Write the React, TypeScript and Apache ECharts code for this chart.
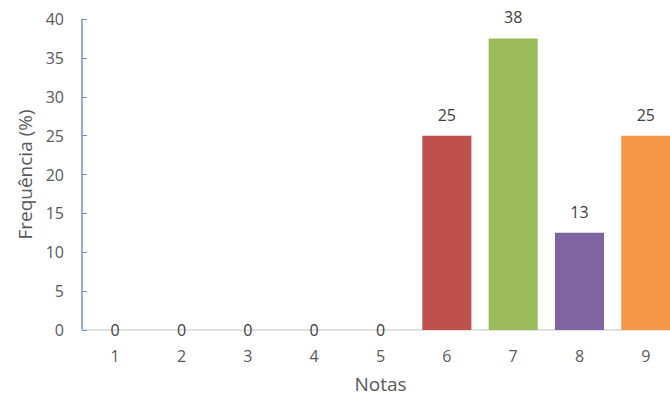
import React, { useEffect, useRef } from "react";
import * as echarts from "echarts";

const categories = ["1", "2", "3", "4", "5", "6", "7", "8", "9"];
const frequencies = [0, 0, 0, 0, 0, 25, 37.5, 12.5, 25];
const barColors = ["#4F81BD", "#4F81BD", "#4F81BD", "#4F81BD", "#4F81BD", "#C0504D", "#9BBB59", "#8064A2", "#F79646"];
const yTicks = { min: 0, max: 40, interval: 5 };

export default function App() {
  const ref = useRef<HTMLDivElement>(null);
  useEffect(() => {
    if (!ref.current) return;
    document.body.style.margin = "0";
    document.body.style.overflow = "hidden";
    const chart = echarts.init(ref.current, null, { renderer: "svg" });
    const font = "'Open Sans', 'Liberation Sans', sans-serif";
    chart.setOption({
      animation: false,
      textStyle: { fontFamily: font },
      grid: { left: 82, top: 19, bottom: 70, width: 597, containLabel: false, outerBoundsMode: "none" },
      xAxis: {
        type: "category",
        data: categories,
        name: "Notas",
        nameLocation: "middle",
        nameGap: 44,
        nameTextStyle: { fontSize: 19, color: "#595959", fontFamily: font },
        axisLine: { lineStyle: { color: "#D9D9D9", width: 1.5 } },
        axisTick: { show: false },
        axisLabel: { fontSize: 16, color: "#595959", margin: 18, fontFamily: font },
      },
      yAxis: {
        type: "value",
        min: yTicks.min,
        max: yTicks.max,
        interval: yTicks.interval,
        name: "Frequência (%)",
        nameLocation: "middle",
        nameGap: 46,
        nameTextStyle: { fontSize: 19, color: "#595959", fontFamily: font },
        axisLine: { show: true, lineStyle: { color: "#6F93C3", width: 1.5 } },
        axisTick: { show: true, inside: true, length: 5, lineStyle: { color: "#6F93C3" } },
        splitLine: { show: false },
        axisLabel: { fontSize: 16, color: "#595959", margin: 18, fontFamily: font },
      },
      series: [
        {
          type: "bar",
          barCategoryGap: "26%",
          data: frequencies.map((v, i) => ({
            value: v,
            itemStyle: { color: barColors[i] },
            label: v === 0 ? { position: "inside" } : undefined,
          })),
          label: {
            show: true,
            position: "top",
            distance: 13,
            fontSize: 16,
            color: "#404040",
            fontFamily: font,
            formatter: (p: any) => String(Math.round(p.value)),
          },
        },
      ],
    });
    return () => chart.dispose();
  }, []);
  return <div ref={ref} style={{ width: 670, height: 400 }} />;
}
